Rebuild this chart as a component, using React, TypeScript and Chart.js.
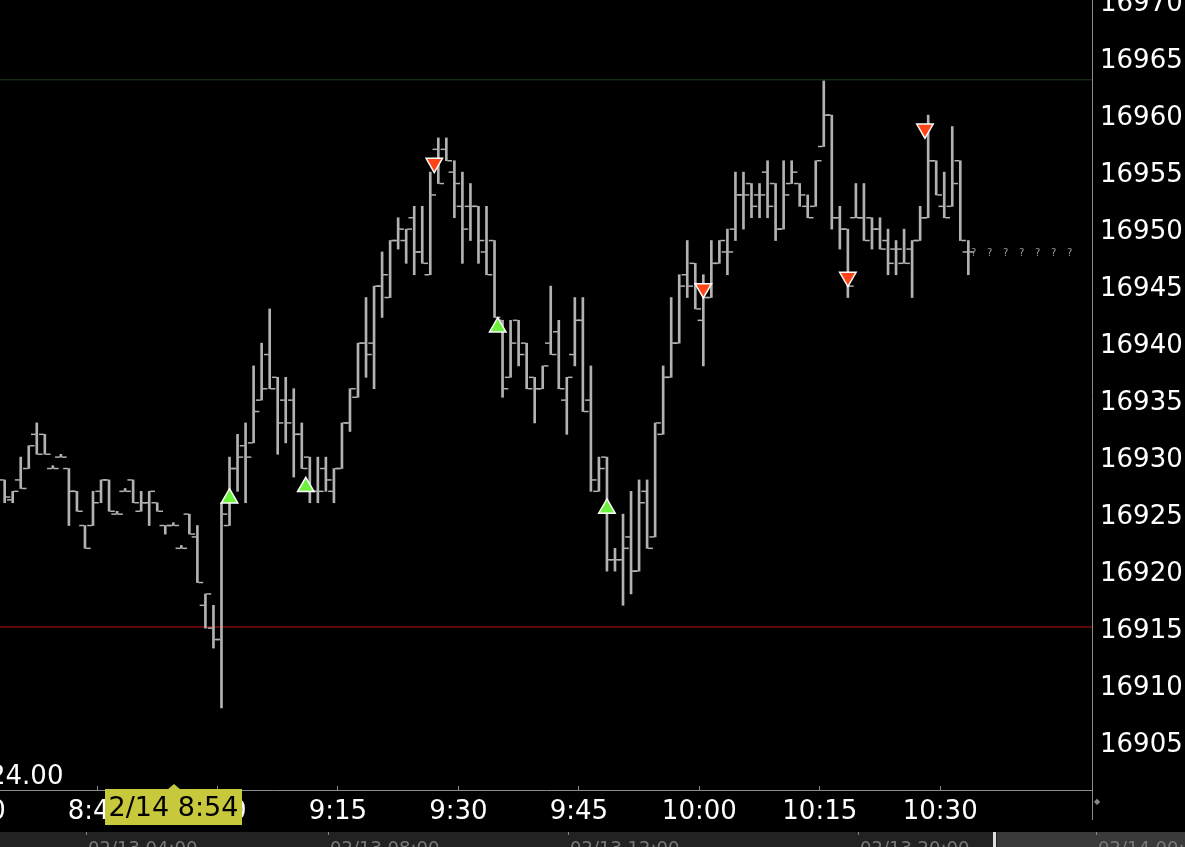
import React, { useEffect, useRef } from "react";
import { Chart, registerables } from "chart.js";

Chart.register(...registerables);

// first bar = 8:33, one bar per minute
const startMinute = 8 * 60 + 33;

const opens = [
  16928, 16926.25, 16928, 16929, 16932, 16932, 16929, 16930, 16929, 16927,
  16924, 16924, 16927, 16928, 16925, 16927, 16928, 16925.25, 16926, 16926,
  16924, 16924, 16922, 16925, 16923, 16917, 16915, 16914, 16924, 16929,
  16931, 16931.25, 16935, 16939, 16937, 16935, 16935, 16932, 16930, 16927,
  16929, 16927, 16929, 16933, 16935.25, 16940, 16940, 16945, 16944, 16949,
  16949, 16951, 16948, 16946, 16957, 16957, 16955, 16952, 16952, 16952,
  16948, 16949, 16942, 16937, 16942, 16940, 16937, 16936, 16940, 16941,
  16935, 16939, 16942, 16935, 16927, 16930, 16921, 16921, 16923, 16920,
  16927, 16923, 16932, 16937, 16940, 16946, 16947, 16942, 16944, 16947,
  16948, 16950, 16953, 16954, 16953, 16955, 16954, 16950, 16954, 16954,
  16952, 16952, 16957.25, 16960, 16951, 16950, 16951, 16951, 16951, 16950,
  16949, 16948.25, 16947, 16948.25, 16949, 16951, 16956, 16952, 16952, 16956,
  16948,
];
const highs = [
  16928, 16927, 16930, 16931, 16933, 16932, 16929.25, 16930.25, 16929, 16927,
  16924, 16927, 16928, 16928, 16925.25, 16927.25, 16928, 16927, 16927, 16926,
  16924, 16924.25, 16922.25, 16925, 16924, 16918, 16917, 16926, 16930, 16932,
  16933, 16938, 16940, 16943, 16937, 16937, 16936, 16933, 16930, 16930,
  16930, 16929, 16933, 16936, 16940, 16944, 16945, 16948, 16949, 16951,
  16950, 16952, 16952, 16955, 16958, 16958, 16956, 16955, 16954, 16952,
  16952, 16949, 16942, 16942, 16942, 16940, 16937, 16938, 16945, 16942,
  16937, 16944, 16944, 16938, 16930, 16930, 16922, 16925, 16927, 16928,
  16928, 16933, 16938, 16944, 16946, 16949, 16947, 16946, 16949, 16949,
  16950, 16955, 16955, 16954, 16954, 16956, 16954, 16956, 16956, 16954,
  16953, 16956, 16963, 16960, 16952, 16950, 16954, 16954, 16951, 16951,
  16950, 16949, 16950, 16949, 16952, 16960, 16956, 16955, 16959, 16956,
  16949,
];
const lows = [
  16926, 16926, 16927.25, 16929, 16930.25, 16930.25, 16929, 16930, 16924, 16925.25,
  16922, 16924, 16926, 16925.25, 16925, 16927, 16926, 16925.25, 16924, 16925.25,
  16923.25, 16924, 16922, 16923.25, 16919, 16915, 16913.25, 16908, 16924, 16927,
  16926, 16931.25, 16935, 16936, 16930.25, 16931.25, 16928.25, 16929, 16926, 16926,
  16927, 16926, 16929, 16932.25, 16935.25, 16937, 16936, 16942.25, 16944, 16948.25,
  16947, 16946, 16947, 16946, 16954, 16956, 16951, 16947, 16949, 16947,
  16946, 16942.25, 16935.25, 16937, 16938, 16936, 16933, 16936, 16939, 16936,
  16932, 16938, 16934, 16927, 16927, 16920, 16920, 16917, 16918, 16920,
  16922, 16923, 16932, 16937, 16940, 16944, 16943, 16938, 16944, 16947,
  16946, 16949, 16950, 16951, 16951, 16951, 16949, 16950, 16954, 16952,
  16951, 16952, 16957.25, 16950, 16948.25, 16944, 16951, 16949, 16948.25, 16948.25,
  16946, 16946, 16947, 16944, 16949, 16951, 16953, 16951, 16952, 16949,
  16946,
];
const closes = [
  16926.5, 16927, 16927.25, 16931, 16930.25, 16930.25, 16929, 16930, 16927, 16925.25,
  16922, 16926, 16928, 16925.25, 16925, 16927, 16926, 16926, 16927, 16925.25,
  16924, 16924, 16922, 16923.25, 16919, 16918, 16914, 16925, 16929, 16930,
  16930, 16934, 16936, 16936, 16933, 16933, 16932, 16929, 16927, 16927,
  16928, 16929, 16933, 16936, 16940, 16939, 16945, 16946, 16949, 16950,
  16950, 16948, 16947, 16953, 16954, 16956, 16954, 16950, 16952, 16949,
  16946, 16942.25, 16936, 16940, 16939, 16936, 16936, 16938, 16939, 16936,
  16937, 16942, 16934, 16928, 16929, 16921, 16921, 16922, 16920, 16926,
  16922, 16933, 16937, 16940, 16945, 16945, 16943, 16944, 16947, 16949,
  16948, 16953, 16953, 16952, 16953, 16952, 16950, 16953, 16955, 16953,
  16951, 16956, 16960, 16951, 16950, 16945, 16951, 16949, 16950, 16948.25,
  16947, 16948.25, 16947, 16949, 16951, 16956, 16953, 16951, 16954, 16949,
  16948,
];

// signal markers: bar position (index) and price
const buyBars = [28, 37.5, 61.4, 75];
const buyPrices = [16926.4, 16927.4, 16941.4, 16925.5];
const sellBars = [53.5, 87, 105, 114.6];
const sellPrices = [16955.8, 16944.8, 16945.8, 16958.8];

// reference lines
const upperLevel = 16963.1;
const lowerLevel = 16915.1;

// axes
const timeTicks = [510, 525, 540, 555, 570, 585, 600, 615, 630];
const priceTicks = [
  16905, 16910, 16915, 16920, 16925, 16930, 16935, 16940, 16945, 16950,
  16955, 16960, 16965, 16970,
];
const xMin = 512.92;
const xMax = 648.9;
const yMin = 16900.8;
const yMax = 16970.1;

const cursorLabel = "2/14 8:54";
const leftValueLabel = "24.00";
const placeholders = ["?", "?", "?", "?", "?", "?", "?"];
const navLabels = ["02/13 04:00", "02/13 08:00", "02/13 12:00", "02/13 20:00", "02/14 00:00"];
const navLabelX = [88, 330, 570, 860, 1098];

const FONT = "'DejaVu Sans', Verdana, sans-serif";
const BAR_COLOR = "#b2b2b2";

const barX = (i: number) => startMinute + i + 0.5;
const fmtTime = (m: number) => {
  const h = Math.floor(m / 60);
  const mm = m % 60;
  return `${h}:${mm < 10 ? "0" + mm : mm}`;
};

export default function App() {
  const canvasRef = useRef<HTMLCanvasElement | null>(null);

  useEffect(() => {
    document.body.style.margin = "0";
    document.body.style.background = "#000";
    const canvas = canvasRef.current;
    if (!canvas) return;
    const tickOff = 0.42;

    const chart = new Chart(canvas, {
      type: "bar",
      data: {
        datasets: [
          {
            type: "scatter",
            label: "buy",
            data: buyBars.map((b, k) => ({ x: barX(b), y: buyPrices[k] })),
            pointStyle: "triangle",
            pointRadius: 9.5,
            pointBackgroundColor: "#6cf23c",
            pointBorderColor: "#ffffff",
            pointBorderWidth: 1.5,
            order: 0,
          } as any,
          {
            type: "scatter",
            label: "sell",
            data: sellBars.map((b, k) => ({ x: barX(b), y: sellPrices[k] })),
            pointStyle: "triangle",
            rotation: 180,
            pointRotation: 180,
            pointRadius: 9.5,
            pointBackgroundColor: "#ff4418",
            pointBorderColor: "#ffffff",
            pointBorderWidth: 1.5,
            order: 0,
          } as any,
          {
            type: "scatter",
            label: "open",
            data: opens.map((v, i) => ({ x: barX(i) - tickOff, y: v })),
            pointStyle: "line",
            pointRadius: 2.4,
            pointBorderColor: BAR_COLOR,
            pointBorderWidth: 1.5,
            order: 1,
          } as any,
          {
            type: "scatter",
            label: "close",
            data: closes.map((v, i) => ({ x: barX(i) + tickOff, y: v })),
            pointStyle: "line",
            pointRadius: 2.4,
            pointBorderColor: BAR_COLOR,
            pointBorderWidth: 1.5,
            order: 1,
          } as any,
          {
            type: "bar",
            label: "range",
            data: highs.map((h, i) => ({ x: barX(i), y: [lows[i], h] })),
            backgroundColor: BAR_COLOR,
            borderWidth: 0,
            barThickness: 2,
            minBarLength: 1,
            grouped: false,
            order: 2,
          } as any,
          {
            type: "line",
            label: "upper",
            data: [
              { x: xMin, y: upperLevel },
              { x: xMax, y: upperLevel },
            ],
            borderColor: "#17401a",
            borderWidth: 1,
            pointRadius: 0,
            order: 3,
          } as any,
          {
            type: "line",
            label: "lower",
            data: [
              { x: xMin, y: lowerLevel },
              { x: xMax, y: lowerLevel },
            ],
            borderColor: "#c01010",
            borderWidth: 1,
            pointRadius: 0,
            order: 3,
          } as any,
        ],
      },
      options: {
        responsive: false,
        animation: false,
        devicePixelRatio: 1,
        layout: { padding: 0, autoPadding: false },
        plugins: {
          legend: { display: false },
          tooltip: { enabled: false },
          title: { display: false },
        },
        events: [],
        scales: {
          x: {
            type: "linear",
            position: "bottom",
            min: xMin,
            max: xMax,
            offset: false,
            grid: {
              display: true,
              offset: false,
              drawOnChartArea: false,
              drawTicks: true,
              tickLength: -4,
              color: "#8c8c8c",
              tickColor: "#8c8c8c",
            },
            border: { display: true, color: "#8c8c8c", width: 1 },
            ticks: {
              autoSkip: false,
              maxRotation: 0,
              minRotation: 0,
              padding: 11,
              color: "#ffffff",
              font: { family: FONT, size: 26 },
              callback: (v: any) => fmtTime(Number(v)),
            },
            afterBuildTicks: (scale: any) => {
              scale.ticks = timeTicks.map((v) => ({ value: v }));
            },
            afterFit: (scale: any) => {
              scale.height = 42;
              scale.paddingLeft = 0;
              scale.paddingRight = 0;
            },
          },
          y: {
            type: "linear",
            position: "right",
            min: yMin,
            max: yMax,
            grid: { display: true, offset: false, drawOnChartArea: false, drawTicks: false },
            border: { display: true, color: "#8c8c8c", width: 1 },
            ticks: {
              autoSkip: false,
              padding: 8,
              labelOffset: 3,
              color: "#ffffff",
              font: { family: FONT, size: 26 },
              callback: (v: any) => String(v),
            },
            afterBuildTicks: (scale: any) => {
              scale.ticks = priceTicks.map((v) => ({ value: v }));
            },
            afterFit: (scale: any) => {
              scale.width = 93;
              scale.paddingTop = 0;
              scale.paddingBottom = 0;
            },
          },
        },
      } as any,
    });
    return () => chart.destroy();
  }, []);

  return (
    <div
      style={{
        position: "fixed",
        left: 0,
        top: 0,
        width: 1185,
        height: 847,
        background: "#000",
        overflow: "hidden",
        fontFamily: FONT,
      }}
    >
      <canvas
        ref={canvasRef}
        width={1185}
        height={832}
        style={{ position: "absolute", left: 0, top: 0, width: 1185, height: 832 }}
      />
      <div
        style={{
          position: "absolute",
          left: 1092,
          top: 790,
          width: 1,
          height: 30,
          background: "#8c8c8c",
        }}
      />
      {placeholders.map((q, k) => (
        <span
          key={k}
          style={{
            position: "absolute",
            left: 971 + k * 16,
            top: 247,
            fontSize: 10,
            color: "#9a9a9a",
            lineHeight: "12px",
          }}
        >
          {q}
        </span>
      ))}
      <div
        style={{
          position: "absolute",
          left: -11,
          top: 762,
          fontSize: 26,
          lineHeight: "26px",
          color: "#ffffff",
          whiteSpace: "nowrap",
        }}
      >
        {leftValueLabel}
      </div>
      <div
        style={{
          position: "absolute",
          left: 167,
          top: 784,
          width: 0,
          height: 0,
          borderLeft: "7px solid transparent",
          borderRight: "7px solid transparent",
          borderBottom: "6px solid #c8c83c",
        }}
      />
      <div
        style={{
          position: "absolute",
          left: 105,
          top: 789,
          width: 137,
          height: 36,
          background: "#c8c83c",
          color: "#000",
          fontSize: 27,
          lineHeight: "36px",
          textAlign: "center",
          whiteSpace: "nowrap",
          overflow: "hidden",
        }}
      >
        {cursorLabel}
      </div>
      <div
        style={{
          position: "absolute",
          left: 1094,
          top: 797,
          fontSize: 8,
          color: "#888",
          lineHeight: "10px",
        }}
      >
        ◆
      </div>
      <div
        style={{
          position: "absolute",
          left: 0,
          top: 832,
          width: 1185,
          height: 15,
          background: "#222222",
          overflow: "hidden",
        }}
      >
        <div
          style={{
            position: "absolute",
            left: 997,
            top: 0,
            width: 188,
            height: 15,
            background: "#3a3a3a",
          }}
        />
        <div
          style={{
            position: "absolute",
            left: 993,
            top: 0,
            width: 3,
            height: 15,
            background: "#e0e0e0",
          }}
        />
        {navLabels.map((t, k) => (
          <React.Fragment key={k}>
            <div
              style={{
                position: "absolute",
                left: navLabelX[k] - 2,
                top: 0,
                width: 1,
                height: 3,
                background: "#888",
              }}
            />
            <div
              style={{
                position: "absolute",
                left: navLabelX[k],
                top: 6,
                fontSize: 18,
                lineHeight: "20px",
                color: "#7a7a7a",
                whiteSpace: "nowrap",
              }}
            >
              {t}
            </div>
          </React.Fragment>
        ))}
      </div>
    </div>
  );
}
